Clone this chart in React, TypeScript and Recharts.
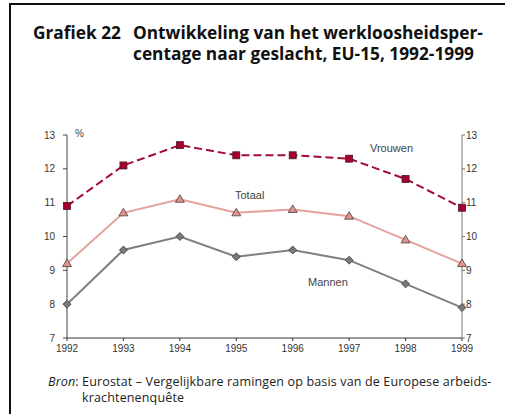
import { Line, LineChart, XAxis, YAxis } from 'recharts';

const YEARS = ['1992', '1993', '1994', '1995', '1996', '1997', '1998', '1999'];
const VROUWEN = [10.9, 12.1, 12.7, 12.4, 12.4, 12.3, 11.7, 10.85];
const TOTAAL = [9.2, 10.7, 11.1, 10.7, 10.8, 10.6, 9.9, 9.2];
const MANNEN = [8.0, 9.6, 10.0, 9.4, 9.6, 9.3, 8.6, 7.9];
const Y_TICKS = [7, 8, 9, 10, 11, 12, 13];

const data = YEARS.map((year, i) => ({
  year,
  vrouwen: VROUWEN[i],
  totaal: TOTAAL[i],
  mannen: MANNEN[i],
}));

const FONT = '"Liberation Sans", Arial, sans-serif';
const WIDE = '"Open Sans", "Liberation Sans", sans-serif';
const TICK = { fill: '#333', fontSize: 10, fontFamily: FONT };

function Square({ cx, cy }: { cx?: number; cy?: number }) {
  if (cx == null || cy == null) return null;
  return <rect x={cx - 3.5} y={cy - 3.5} width={7} height={7} fill="#a6002f" stroke="#4a1a26" strokeWidth={0.8} />;
}

function Triangle({ cx, cy }: { cx?: number; cy?: number }) {
  if (cx == null || cy == null) return null;
  return (
    <path
      d={`M${cx},${cy - 4.5} L${cx + 4.5},${cy + 3} L${cx - 4.5},${cy + 3} Z`}
      fill="#e0938c"
      stroke="#4a3a3a"
      strokeWidth={0.8}
    />
  );
}

function Diamond({ cx, cy }: { cx?: number; cy?: number }) {
  if (cx == null || cy == null) return null;
  return (
    <path
      d={`M${cx},${cy - 4} L${cx + 4},${cy} L${cx},${cy + 4} L${cx - 4},${cy} Z`}
      fill="#7a7a7a"
      stroke="#3a3a3a"
      strokeWidth={0.8}
    />
  );
}

const abs = (left: number, top: number, extra: React.CSSProperties = {}): React.CSSProperties => ({
  position: 'absolute',
  left,
  top,
  whiteSpace: 'nowrap',
  ...extra,
});

const TITLE: React.CSSProperties = {
  fontFamily: WIDE,
  fontSize: 17.3,
  fontWeight: 700,
  color: '#111',
  lineHeight: '21px',
};

export default function App() {
  return (
    <div style={{ position: 'absolute', left: 0, top: 0, width: 505, height: 414, background: '#fff', fontFamily: FONT }}>
      {/* frame */}
      <div style={{ position: 'absolute', left: 9, top: 3, width: 496, height: 1.5, background: '#111' }} />
      <div style={{ position: 'absolute', left: 9, top: 3, width: 1.5, height: 411, background: '#111' }} />

      {/* title */}
      <div style={abs(33, 22, TITLE)}>Grafiek 22</div>
      <div style={abs(133, 22, TITLE)}>
        Ontwikkeling van het werkloosheidsper-
        <br />
        centage naar geslacht, EU-15, 1992-1999
      </div>

      <LineChart
        width={505}
        height={414}
        data={data}
        margin={{ top: 135, right: 0, bottom: 56, left: 0 }}
        style={{ position: 'absolute', left: 0, top: 0 }}
      >
        <XAxis
          dataKey="year"
          height={20}
          padding={{ left: 0, right: 0 }}
          stroke="#333"
          tick={TICK}
          tickSize={3}
          tickMargin={4}
          interval={0}
        />
        <YAxis
          yAxisId="left"
          width={67}
          domain={[7, 13]}
          ticks={Y_TICKS}
          stroke="#444"
          tick={TICK}
          tickSize={4}
          tickMargin={8}
          allowDataOverflow
        />
        <YAxis
          yAxisId="right"
          orientation="right"
          width={43}
          domain={[7, 13]}
          ticks={Y_TICKS}
          stroke="#777"
          tick={TICK}
          tickSize={3}
          tickMargin={1}
          allowDataOverflow
        />
        <Line
          yAxisId="left"
          dataKey="mannen"
          stroke="#808080"
          strokeWidth={2}
          dot={(p: any) => <Diamond key={`m${p.index}`} cx={p.cx} cy={p.cy} />}
          isAnimationActive={false}
        />
        <Line
          yAxisId="left"
          dataKey="totaal"
          stroke="#e3a29b"
          strokeWidth={2}
          dot={(p: any) => <Triangle key={`t${p.index}`} cx={p.cx} cy={p.cy} />}
          isAnimationActive={false}
        />
        <Line
          yAxisId="left"
          dataKey="vrouwen"
          stroke="#a30a35"
          strokeWidth={2}
          strokeDasharray="8 4"
          dot={(p: any) => <Square key={`v${p.index}`} cx={p.cx} cy={p.cy} />}
          isAnimationActive={false}
        />
      </LineChart>

      {/* annotations */}
      <div style={abs(75, 128, { fontSize: 10, color: '#444' })}>%</div>
      <div style={abs(370, 142, { fontSize: 11, color: '#444' })}>Vrouwen</div>
      <div style={abs(235, 189, { fontSize: 11, color: '#444' })}>Totaal</div>
      <div style={abs(308, 276, { fontSize: 11, color: '#444' })}>Mannen</div>

      {/* source */}
      <div style={abs(48, 373, { fontFamily: WIDE, fontSize: 12.5, letterSpacing: 0.15, color: '#222' })}>
        <i>Bron</i>: Eurostat – Vergelijkbare ramingen op basis van de Europese arbeids-
      </div>
      <div style={abs(82, 389, { fontFamily: WIDE, fontSize: 12.5, letterSpacing: 0.15, color: '#222' })}>
        krachtenenquête
      </div>
    </div>
  );
}
